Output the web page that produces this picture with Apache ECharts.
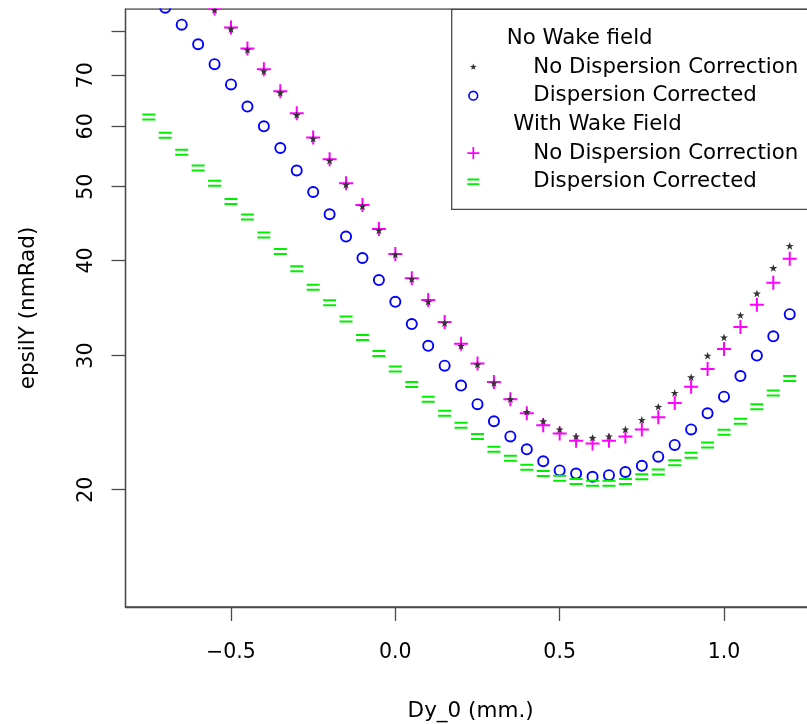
<!DOCTYPE html>
<html>
<head>
<meta charset="utf-8">
<script src="https://cdn.jsdelivr.net/npm/echarts@6/dist/echarts.min.js"></script>
<style>
html,body{margin:0;padding:0;background:#fff;}
#chart{width:807px;height:724px;}
</style>
</head>
<body>
<div id="chart"></div>
<script>
// Dy_0 (mm.) positions
var dy0 = [-0.75,-0.70,-0.65,-0.60,-0.55,-0.50,-0.45,-0.40,-0.35,-0.30,
           -0.25,-0.20,-0.15,-0.10,-0.05,0.00,0.05,0.10,0.15,0.20,
           0.25,0.30,0.35,0.40,0.45,0.50,0.55,0.60,0.65,0.70,
           0.75,0.80,0.85,0.90,0.95,1.00,1.05,1.10,1.15,1.20];
// No Wake field, No Dispersion Correction (epsilY, nmRad)
var noWakeNoCorr = [null,null,null,null,85.3,80.5,75.6,70.9,66.4,62.1,
                    57.8,54.1,50.3,47.1,43.8,40.7,37.8,35.3,33.1,30.9,
                    29.2,27.6,26.3,25.3,24.6,24.0,23.5,23.4,23.5,24.0,
                    24.7,25.7,26.8,28.1,30.0,31.7,33.9,36.2,39.1,41.8];
// No Wake field, Dispersion Corrected
var noWakeCorr = [null,85.9,81.6,76.9,72.4,68.1,63.7,60.0,56.2,52.5,
                  49.2,46.0,43.0,40.3,37.7,35.3,33.0,30.9,29.1,27.4,
                  25.9,24.6,23.5,22.6,21.8,21.2,21.0,20.8,20.9,21.1,
                  21.5,22.1,22.9,24.0,25.2,26.5,28.2,30.0,31.8,34.0];
// With Wake Field, No Dispersion Correction
var wakeNoCorr = [null,null,null,null,85.7,80.9,75.9,71.3,66.7,62.4,
                  58.0,54.3,50.5,47.3,44.0,40.8,37.9,35.5,33.2,31.1,
                  29.3,27.7,26.3,25.2,24.3,23.7,23.2,23.0,23.2,23.5,
                  24.0,24.9,26.0,27.3,28.8,30.6,32.7,35.0,37.4,40.2];
// With Wake Field, Dispersion Corrected
var wakeCorr = [61.7,58.4,55.5,52.9,50.5,47.8,45.6,43.2,41.1,39.0,
                36.9,35.2,33.5,31.7,30.2,28.8,27.5,26.3,25.2,24.3,
                23.5,22.6,22.0,21.4,21.0,20.7,20.5,20.4,20.4,20.5,
                20.8,21.1,21.7,22.2,22.9,23.8,24.6,25.7,26.8,28.0];

var xTicks = [-0.5, 0.0, 0.5, 1.0];
var yTicks = [20, 30, 40, 50, 60, 70, 80];
var yLabels = [20, 30, 40, 50, 60, 70];

var legendNames = ['No Wake field', 'No Wake field: No Dispersion Correction',
  'No Wake field: Dispersion Corrected', 'With Wake Field',
  'With Wake Field: No Dispersion Correction', 'With Wake Field: Dispersion Corrected'];
var legendTexts = ['No Wake field', 'No Dispersion Correction', 'Dispersion Corrected',
  'With Wake Field', 'No Dispersion Correction', 'Dispersion Corrected'];
var legendIndent = ['h1', 'e', 'e', 'h2', 'e', 'e'];

function pairs(vals) {
  var out = [];
  for (var i = 0; i < dy0.length; i++) {
    if (vals[i] != null) out.push([dy0[i], vals[i]]);
  }
  return out;
}

var STAR = 'path://M10,0L12.35,6.76L19.51,6.91L13.8,11.24L15.88,18.09L10,14L4.12,18.09L6.2,11.24L0.49,6.91L7.65,6.76Z';
var STAR_LEG = 'path://M-7,-7M27,27M10,0L12.35,6.76L19.51,6.91L13.8,11.24L15.88,18.09L10,14L4.12,18.09L6.2,11.24L0.49,6.91L7.65,6.76Z';
var RING = 'path://M6,0A6,6,0,1,1,6,12A6,6,0,1,1,6,0ZM6,1.9A4.1,4.1,0,1,0,6,10.1A4.1,4.1,0,1,0,6,1.9Z';
var RING_LEG = 'path://M-1,-1M13,13M6,0A6,6,0,1,1,6,12A6,6,0,1,1,6,0ZM6,1.9A4.1,4.1,0,1,0,6,10.1A4.1,4.1,0,1,0,6,1.9Z';
var PLUS = 'path://M0,6L14,6L14,8L0,8ZM6,0L8,0L8,14L6,14Z';
var EQUALS = 'path://M0,0L13,0L13,2L0,2ZM0,5L13,5L13,7L0,7Z';

var FONT = 'DejaVu Sans';
var AXIS_COLOR = '#4a4a4a';

var chart = echarts.init(document.getElementById('chart'), null, {renderer: 'canvas'});

function richStyle(pad) {
  return {fontFamily: FONT, fontSize: 21.3, color: '#000', lineHeight: 22, padding: [0, 0, 0, pad]};
}

var option = {
  animation: false,
  backgroundColor: '#fff',
  grid: {
    left: 125.5, top: 9, right: -8.7, bottom: 117,
    containLabel: false,
    outerBoundsMode: 'none',
    show: true, borderColor: AXIS_COLOR, borderWidth: 1.3, backgroundColor: 'transparent'
  },
  xAxis: {
    type: 'value',
    min: -0.821, max: 1.279,
    name: 'Dy_0 (mm.)',
    nameLocation: 'middle',
    nameGap: 93,
    nameTextStyle: {fontFamily: FONT, fontSize: 21.5, color: '#000'},
    axisLine: {show: true, onZero: false, lineStyle: {color: AXIS_COLOR, width: 1.3}},
    axisTick: {show: true, inside: false, length: 14, customValues: xTicks,
      lineStyle: {color: AXIS_COLOR, width: 1.3}},
    axisLabel: {show: true, customValues: xTicks, margin: 35,
      fontFamily: FONT, fontSize: 20.5, color: '#000',
      formatter: function (v) { return (v < 0 ? '\u2212' : '') + Math.abs(v).toFixed(1); }},
    splitLine: {show: false}
  },
  yAxis: {
    type: 'log',
    logBase: 10,
    min: 14.03, max: 85.55,
    name: 'epsilY (nmRad)',
    nameLocation: 'middle',
    nameRotate: 90,
    nameGap: 86,
    nameTextStyle: {fontFamily: FONT, fontSize: 21.5, color: '#000'},
    axisLine: {show: true, onZero: false, lineStyle: {color: AXIS_COLOR, width: 1.3}},
    axisTick: {show: true, inside: false, length: 14, customValues: yTicks,
      lineStyle: {color: AXIS_COLOR, width: 1.3}},
    axisLabel: {show: true, customValues: yLabels, rotate: 90, margin: 28,
      fontFamily: FONT, fontSize: 20.5, color: '#000',
      formatter: function (v) { return String(Math.round(v)); }},
    splitLine: {show: false},
    minorTick: {show: false},
    minorSplitLine: {show: false}
  },
  legend: {
    show: true,
    orient: 'vertical',
    left: 451.7, top: 9.3,
    padding: [18, 24, 16.6, 15.6],
    itemGap: 6.7,
    itemWidth: 12, itemHeight: 12,
    borderColor: AXIS_COLOR, borderWidth: 1.3, backgroundColor: '#fff',
    selectedMode: false,
    symbolKeepAspect: true,
    data: [
      {name: legendNames[0], icon: 'none'},
      {name: legendNames[1], icon: STAR_LEG},
      {name: legendNames[2], icon: RING_LEG},
      {name: legendNames[3], icon: 'none'},
      {name: legendNames[4], icon: PLUS},
      {name: legendNames[5], icon: EQUALS}
    ],
    formatter: function (name) {
      var i = legendNames.indexOf(name);
      return '{' + legendIndent[i] + '|' + legendTexts[i] + '}';
    },
    textStyle: {
      fontFamily: FONT, fontSize: 21.3, color: '#000', lineHeight: 22,
      rich: {h1: richStyle(22.4), h2: richStyle(29), e: richStyle(49)}
    }
  },
  graphic: [{
    type: 'rect', z: 100, silent: true,
    shape: {x: 0, y: 0, width: 807, height: 8.3},
    style: {fill: '#fff'}
  }],
  series: [
    {name: legendNames[0], type: 'scatter', data: [], silent: true},
    {name: legendNames[3], type: 'scatter', data: [], silent: true},
    {
      name: legendNames[2], type: 'scatter', z: 2, clip: false, silent: true,
      symbol: RING, symbolSize: 12, symbolKeepAspect: true,
      itemStyle: {color: '#0000ff', opacity: 1},
      data: pairs(noWakeCorr)
    },
    {
      name: legendNames[5], type: 'scatter', z: 3, clip: false, silent: true,
      symbol: EQUALS, symbolSize: [13, 7],
      itemStyle: {color: '#00ee00', opacity: 1},
      data: pairs(wakeCorr)
    },
    {
      name: legendNames[4], type: 'scatter', z: 4, clip: false, silent: true,
      symbol: PLUS, symbolSize: 14,
      itemStyle: {color: '#ff00ff', opacity: 1},
      data: pairs(wakeNoCorr)
    },
    {
      name: legendNames[1], type: 'scatter', z: 5, clip: false, silent: true,
      symbol: STAR, symbolSize: 8, symbolKeepAspect: true,
      itemStyle: {color: '#333333', opacity: 1},
      data: pairs(noWakeNoCorr)
    }
  ]
};
chart.setOption(option);
</script>
</body>
</html>
